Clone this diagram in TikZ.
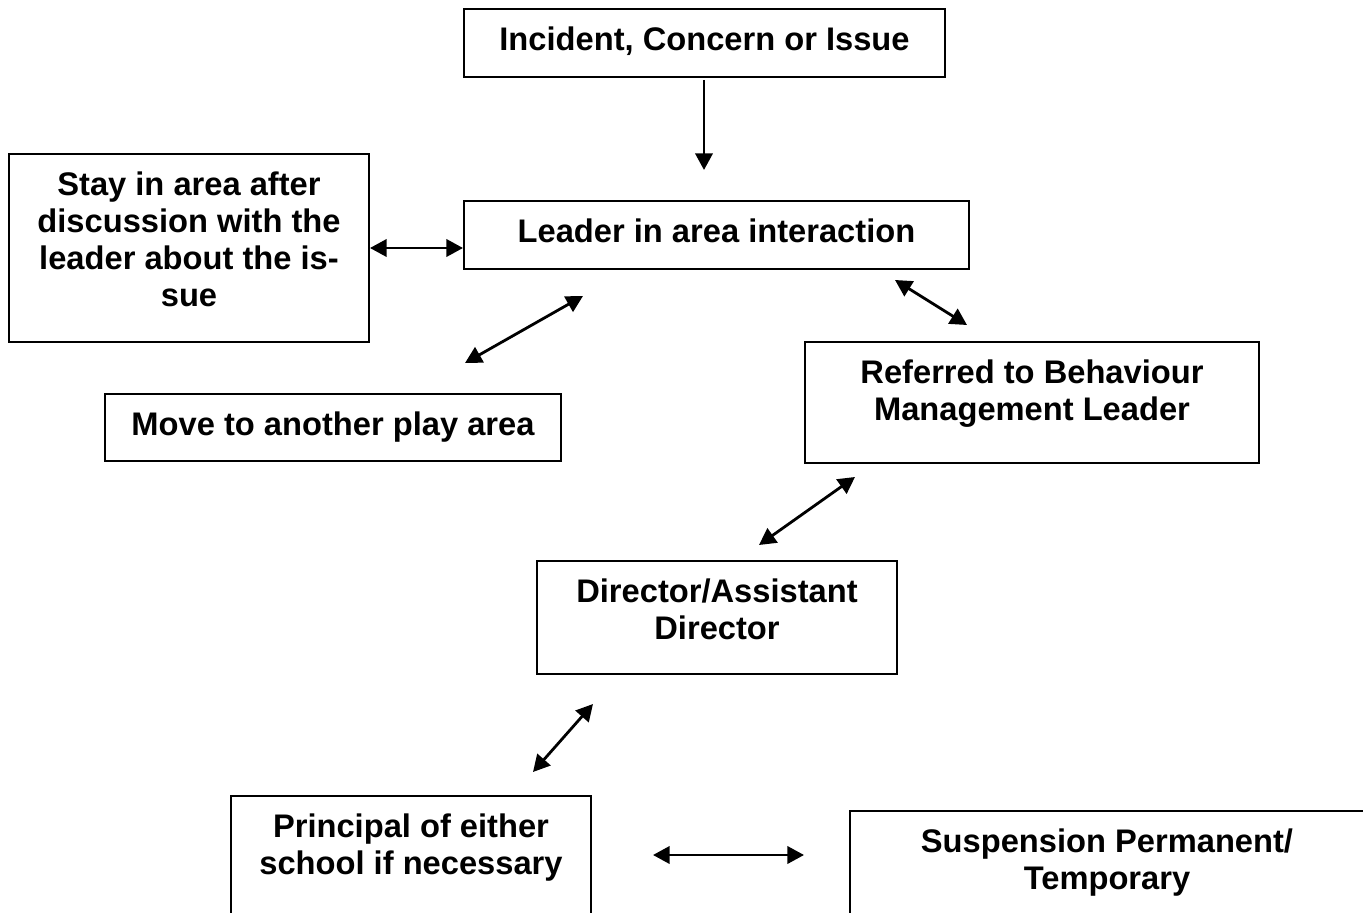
\documentclass[tikz,border=0pt]{standalone}
\usepackage{fontspec}
\setmainfont{Liberation Sans}
\usetikzlibrary{arrows.meta}
\newdimen\px \px=0.75pt
\newcommand\bxt[3]{\parbox[c][#2\px][t]{#1\px}{\centering\vspace*{18\px}\rule{0pt}{23.3\px}#3\par}}
\begin{document}
\begin{tikzpicture}[x=0.75pt,y=-0.75pt,
  box/.style={draw, line width=1.5pt, inner sep=0pt, anchor=north west,
    font=\fontsize{24.5pt}{27.75pt}\selectfont\bfseries},
  tip/.tip={Triangle[length=12.5pt,width=13pt]},
  oneway/.style={line width=2.1pt, -tip},
  twoway/.style={line width=2.1pt, tip-tip}]
\fill[white] (0,0) rectangle (1363,913);
\clip (0,0) rectangle (1363,913);
\node[box] (inc) at (463,8) {\bxt{481}{68}{Incident, Concern or Issue}};
\node[box] (lead) at (463,200) {\bxt{505}{68}{Leader in area interaction}};
\node[box] (stay) at (8,153) {\bxt{360}{188}{Stay in area after\\discussion with the\\leader about the is-\\sue}};
\node[box] (move) at (104,393) {\bxt{456}{67}{Move to another play area}};
\node[box] (ref) at (804,341) {\bxt{454}{121}{Referred to Behaviour\\Management Leader}};
\node[box] (dir) at (536,560) {\bxt{360}{113}{Director/Assistant\\Director}};
\node[box] (prin) at (230,795) {\bxt{360}{140}{Principal of either\\school if necessary}};
\node[box] (susp) at (849,810) {\bxt{514}{130}{Suspension Permanent/\\Temporary}};
% connector ends
\coordinate (incA) at (704,80);
\coordinate (leadA) at (704,170);
\coordinate (leadB) at (583,296);
\coordinate (moveA) at (465,363);
\coordinate (leadC) at (895,280);
\coordinate (refA) at (967,325);
\coordinate (refB) at (855,477);
\coordinate (dirA) at (759,545);
\coordinate (dirB) at (593,704);
\coordinate (prinA) at (533,772);
\coordinate (prinB) at (653,855);
\coordinate (suspA) at (804,855);
\draw[oneway] (incA) -- (leadA);
\draw[twoway] (stay.east) -- (stay.east -| lead.west);
\draw[twoway] (leadB) -- (moveA);
\draw[twoway] (leadC) -- (refA);
\draw[twoway] (refB) -- (dirA);
\draw[twoway] (dirB) -- (prinA);
\draw[twoway] (prinB) -- (suspA);
\end{tikzpicture}
\end{document}
